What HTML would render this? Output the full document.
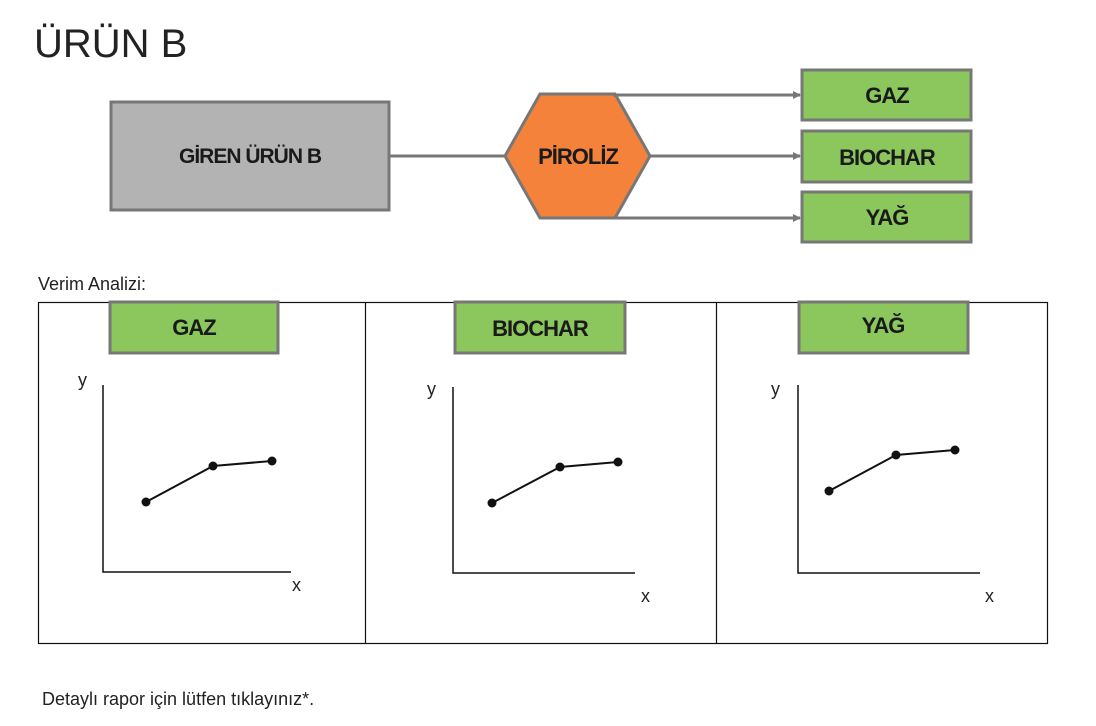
<!DOCTYPE html>
<html><head><meta charset="utf-8"><style>
html,body{margin:0;padding:0;background:#fff;width:1096px;height:726px;overflow:hidden}
svg{display:block}
text{font-family:"Liberation Sans",sans-serif}
.b{font-weight:bold;fill:#1a1a1a;text-anchor:middle}
</style></head><body>
<svg width="1096" height="726" viewBox="0 0 1096 726" xmlns="http://www.w3.org/2000/svg">
<defs><marker id="a" markerWidth="8" markerHeight="8" refX="7" refY="4" orient="auto" markerUnits="userSpaceOnUse"><path d="M0,0 L8,4 L0,8 z" fill="#777"/></marker></defs>
<text x="34" y="57" font-size="40" fill="#222">ÜRÜN B</text>
<rect x="111" y="102" width="278" height="108" fill="#b3b3b4" stroke="#777" stroke-width="3"/>
<text x="250" y="163" class="b" font-size="21" letter-spacing="-1">GİREN ÜRÜN B</text>
<line x1="389" y1="156" x2="505" y2="156" stroke="#777" stroke-width="3"/>
<polygon points="505,156 540,94 615,94 650,156 615,218 540,218" fill="#f4823b" stroke="#777" stroke-width="3"/>
<text x="578" y="164" class="b" font-size="22" letter-spacing="-1">PİROLİZ</text>
<g stroke="#777" stroke-width="3" marker-end="url(#a)">
<line x1="613" y1="95" x2="800" y2="95"/>
<line x1="650" y1="156" x2="800" y2="156"/>
<line x1="613" y1="218" x2="800" y2="218"/>
</g>
<g fill="#8cc75e" stroke="#777" stroke-width="3">
<rect x="802" y="70" width="169" height="50"/>
<rect x="802" y="131" width="169" height="51"/>
<rect x="802" y="192" width="169" height="50"/>
</g>
<text x="887" y="103" class="b" font-size="22" letter-spacing="-1">GAZ</text>
<text x="887" y="165" class="b" font-size="22" letter-spacing="-1">BIOCHAR</text>
<text x="887" y="225" class="b" font-size="22" letter-spacing="-1">YAĞ</text>
<text x="38" y="290" font-size="18" fill="#222">Verim Analizi:</text>
<rect x="38.5" y="302.5" width="1009" height="341" fill="none" stroke="#111" stroke-width="1.2"/>
<line x1="365.5" y1="302" x2="365.5" y2="644" stroke="#111" stroke-width="1.2"/>
<line x1="716.5" y1="302" x2="716.5" y2="644" stroke="#111" stroke-width="1.2"/>
<g fill="#8cc75e" stroke="#777" stroke-width="3">
<rect x="110" y="302" width="168" height="51"/>
<rect x="455" y="302" width="170" height="51"/>
<rect x="799" y="302" width="169" height="51"/>
</g>
<text x="194" y="335" class="b" font-size="22" letter-spacing="-1">GAZ</text>
<text x="540" y="336" class="b" font-size="22" letter-spacing="-1">BIOCHAR</text>
<text x="883" y="333" class="b" font-size="22" letter-spacing="-1">YAĞ</text>
<g stroke="#111" stroke-width="1.5" fill="none">
<polyline points="103,385 103,572 291,572"/>
<polyline points="453,387 453,573 635,573"/>
<polyline points="798,385 798,573 980,573"/>
<polyline points="146,502 213,466 272,461" stroke-width="2"/>
<polyline points="492,503 560,467 618,462" stroke-width="2"/>
<polyline points="829,491 896,455 955,450" stroke-width="2"/>
</g>
<g fill="#111">
<circle cx="146" cy="502" r="4.5"/><circle cx="213" cy="466" r="4.5"/><circle cx="272" cy="461" r="4.5"/>
<circle cx="492" cy="503" r="4.5"/><circle cx="560" cy="467" r="4.5"/><circle cx="618" cy="462" r="4.5"/>
<circle cx="829" cy="491" r="4.5"/><circle cx="896" cy="455" r="4.5"/><circle cx="955" cy="450" r="4.5"/>
</g>
<g font-size="18" fill="#222">
<text x="78" y="386">y</text><text x="292" y="591">x</text>
<text x="427" y="395">y</text><text x="641" y="602">x</text>
<text x="771" y="395">y</text><text x="985" y="602">x</text>
</g>
<text x="42" y="705" font-size="18" fill="#222">Detaylı rapor için lütfen tıklayınız*.</text>
</svg>
</body></html>
